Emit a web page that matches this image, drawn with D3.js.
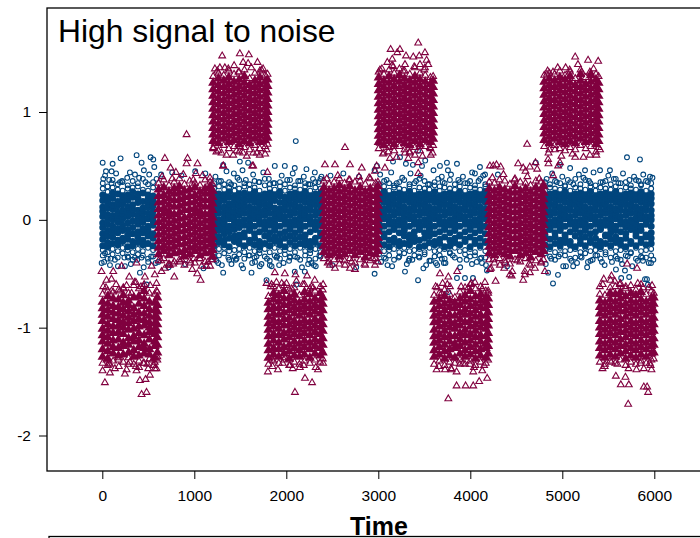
<!DOCTYPE html>
<html>
<head>
<meta charset="utf-8">
<script src="https://cdn.jsdelivr.net/npm/d3@7"></script>
<style>
  body { margin: 0; background: #fff; }
  svg { display: block; }
  text { font-family: "Liberation Sans", Arial, sans-serif; fill: #000; }
</style>
</head>
<body>
<div id="chart"></div>
<script>
var xTicks = [0, 1000, 2000, 3000, 4000, 5000, 6000];
var yTicks = [-2, -1, 0, 1];

// Dense band of the first series, read column by column. Values in hundredths.
var blueTimes = [5,58,112,168,221,276,330,387,441,497,552,
  1215,1268,1325,1379,1436,1488,1544,1601,1655,1709,1766,1820,1874,1931,1985,2040,2094,2151,2205,2260,2316,2372,
  3008,3063,3118,3171,3228,3282,3339,3392,3447,3503,3556,3612,3667,3721,3778,3832,3886,3943,3998,4051,4107,4163,
  4812,4866,4921,4977,5030,5086,5141,5197,5250,5306,5361,5415,5470,5526,5581,5634,5690,5745,5801,5856,5910,5966,5994];
var blueValues = [
[-33,-28,-24,-18,-13,-7,-3,3,8,12,18,23,29,34],[-36,-30,-25,-21,-15,-10,-4,1,5,11,16,21,26,31],[-32,-27,-22,-16,-11,-6,0,4,10,14,20,25,30,37],
[-35,-29,-23,-19,-12,-8,-2,2,7,13,17,24,28,33],[-31,-26,-20,-17,-10,-5,1,6,9,15,19,22,27,35],[-34,-28,-25,-18,-14,-9,-3,3,8,12,18,23,29,32],
[-37,-30,-24,-20,-13,-7,-1,5,10,14,21,26,30,36],[-32,-27,-21,-16,-11,-4,0,4,9,16,20,24,31,34],[-33,-29,-23,-19,-12,-8,-2,2,7,11,17,25,28,38],
[-36,-26,-22,-15,-10,-6,1,6,12,15,19,23,27,33],[-34,-28,-24,-17,-13,-5,-1,3,8,13,18,22,30,35],
[-35,-30,-24,-18,-12,-7,-2,4,9,14,19,25,29,34],[-33,-27,-21,-16,-10,-5,0,6,11,16,20,24,31,36],[-31,-26,-23,-19,-13,-8,-3,2,7,12,18,23,28,33],
[-37,-29,-25,-17,-11,-6,1,5,10,15,21,26,30,35],[-34,-28,-20,-15,-9,-4,-1,3,8,13,17,22,27,32],[-32,-27,-22,-18,-14,-7,-2,4,9,14,19,24,29,37],
[-36,-30,-24,-16,-12,-5,0,6,11,15,20,25,31,34],[-33,-26,-21,-19,-10,-8,-3,2,7,12,18,23,28,33],[-35,-29,-23,-17,-13,-6,1,5,10,16,21,26,30,36],
[-31,-28,-25,-20,-11,-4,-1,3,8,13,17,22,27,35],[-34,-27,-22,-15,-9,-7,-2,4,9,14,19,24,32,38],[-38,-30,-24,-18,-12,-5,0,6,12,15,20,25,29,33],
[-33,-26,-20,-16,-10,-8,-3,2,7,11,18,23,28,34],[-36,-29,-23,-19,-13,-6,1,5,10,16,22,26,31,35],[-32,-28,-25,-17,-11,-4,-1,3,9,13,17,21,27,33],
[-35,-27,-21,-15,-9,-7,-2,4,8,14,19,24,30,37],[-34,-30,-24,-18,-12,-5,0,6,11,15,20,25,29,32],[-37,-26,-22,-16,-10,-8,-3,2,7,12,18,23,28,36],
[-33,-29,-23,-19,-14,-6,1,5,10,16,21,26,31,34],[-31,-28,-25,-20,-11,-4,-1,3,9,13,17,22,27,33],[-36,-27,-21,-17,-9,-7,-2,4,8,14,19,24,30,35],
[-34,-30,-24,-15,-12,-5,0,6,11,15,20,25,29,38],
[-32,-26,-22,-18,-10,-8,-3,2,7,12,18,23,28,33],[-35,-29,-23,-16,-13,-6,1,5,10,16,21,26,31,36],[-33,-28,-25,-19,-11,-4,-1,3,9,13,17,22,27,34],
[-37,-27,-21,-17,-9,-7,-2,4,8,14,19,24,30,32],[-34,-30,-24,-20,-12,-5,0,6,11,15,20,25,29,35],[-31,-26,-22,-15,-10,-8,-3,2,7,12,18,23,28,37],
[-36,-29,-23,-18,-14,-6,1,5,10,16,21,26,31,33],[-33,-28,-20,-16,-11,-4,-1,3,9,13,17,22,27,34],[-35,-27,-25,-19,-9,-7,-2,4,8,14,19,24,30,38],
[-32,-30,-24,-17,-12,-5,0,6,11,15,20,25,29,36],[-38,-26,-21,-15,-10,-8,-3,2,7,12,18,23,28,33],[-34,-29,-23,-20,-13,-6,1,5,10,16,21,26,32,35],
[-33,-28,-22,-18,-11,-4,-1,3,9,13,17,22,27,31],[-36,-27,-25,-16,-9,-7,-2,4,8,14,19,24,30,34],[-31,-30,-24,-19,-12,-5,0,6,11,15,20,25,29,37],
[-35,-26,-21,-17,-10,-8,-3,2,7,12,18,23,28,33],[-37,-29,-23,-15,-14,-6,1,5,10,16,21,26,31,35],[-32,-28,-20,-18,-11,-4,-1,3,9,13,17,22,27,34],
[-34,-27,-25,-16,-9,-7,-2,4,8,14,19,24,30,36],[-33,-30,-22,-19,-12,-5,0,6,11,15,20,25,29,32],[-36,-26,-24,-17,-10,-8,-3,2,7,12,18,23,28,38],
[-35,-29,-21,-20,-13,-6,1,5,10,16,21,26,31,33],
[-31,-28,-23,-15,-11,-4,-1,3,9,13,17,22,27,35],[-34,-27,-25,-18,-9,-7,-2,4,8,14,19,24,30,33],[-37,-30,-22,-16,-12,-5,0,6,11,15,20,25,29,36],
[-32,-26,-24,-19,-10,-8,-3,2,7,12,18,23,28,34],[-33,-29,-21,-17,-14,-6,1,5,10,16,21,26,31,32],[-36,-28,-23,-20,-11,-4,-1,3,9,13,17,22,27,35],
[-35,-27,-25,-15,-9,-7,-2,4,8,14,19,24,30,38],[-34,-30,-22,-18,-12,-5,0,6,11,15,20,25,29,33],[-31,-26,-24,-16,-10,-8,-3,2,7,12,18,23,28,37],
[-38,-29,-21,-19,-13,-6,1,5,10,16,21,26,31,34],[-33,-28,-23,-17,-11,-4,-1,3,9,13,17,22,27,32],[-36,-27,-25,-20,-9,-7,-2,4,8,14,19,24,30,35],
[-32,-30,-22,-15,-14,-5,0,6,11,15,20,25,29,36],[-35,-26,-24,-18,-12,-8,-3,2,7,12,18,23,28,33],[-34,-29,-21,-16,-10,-6,1,5,10,16,21,26,31,38],
[-37,-28,-23,-19,-11,-4,-1,3,9,13,17,22,27,34],[-33,-27,-25,-17,-13,-7,-2,4,8,14,19,24,30,35],[-31,-30,-22,-20,-9,-5,0,6,11,15,20,25,29,32],
[-36,-26,-24,-15,-12,-8,-3,2,7,12,18,23,28,37],[-34,-29,-21,-18,-10,-6,1,5,10,16,21,26,32,33],[-35,-28,-23,-16,-14,-4,-1,3,9,13,17,22,27,36],
[-33,-27,-22,-17,-12,-6,0,4,9,15,20,24,29,34]
];

// Scattered points of the first series around the band: time, then value
var blueTimesOut = [4,112,40,101,199,373,427,525,554,565,452,271,101,192,11,355,640,760,860,1010,1120,1314,1430,1495,1585,1524,1875,1984,2092,2219,2310,2382,2103,2480,2620,2790,2960,2985,3160,3236,3300,3376,3432,3475,3510,3670,3746,3855,3757,4105,4160,4050,3690,4300,4712,4975,5085,5247,5410,5518,5703,5844,5953,
  29,-7,83,137,282,246,355,427,409,481,499,608,720,900,1100,1314,1622,1260,1404,1513,1629,1712,1821,1922,1785,2092,2201,2237,2320,2273,2038,1459,1676,1893,2110,2500,2760,2960,3100,3290,3432,3520,3330,3626,3713,3855,3942,4029,3760,4181,4018,4127,4400,4899,4953,4845,5010,5118,5583,5681,5640,5727,5899,5920,5431,5279,5877,5964,5931,
  30,75,150,215,300,400,470,510,590,1230,1290,1350,1400,1470,1560,1640,1700,1750,1810,1860,1950,2010,2070,2130,2190,2240,2290,2350,3020,3090,3140,3200,3260,3350,3410,3460,3540,3600,3650,3700,3790,3870,3920,3970,4020,4090,4140,4830,4890,4940,5000,5060,5120,5180,5230,5290,5340,5440,5500,5560,5610,5660,5730,5780,5830,5880,5930,5980,
  20,90,170,240,310,380,450,530,580,1240,1300,1370,1450,1530,1590,1660,1730,1790,1840,1900,1970,2030,2120,2170,2250,2300,2360,3030,3080,3150,3220,3310,3370,3440,3490,3570,3640,3690,3730,3810,3890,3960,4070,4120,4170,4820,4880,4960,5040,5100,5160,5210,5270,5330,5380,5460,5540,5600,5650,5710,5760,5820,5870,5940,5990];
var blueValuesOut = [.53,.52,.45,.45,.57,.6,.53,.58,.56,.49,.46,.39,.34,.35,.38,.42,.42,.44,.41,.45,.43,.51,.43,.54,.53,.46,.5,.5,.48,.47,.44,.4,.73,.41,.43,.4,.46,.5,.54,.58,.52,.51,.64,.5,.55,.5,.53,.52,.46,.49,.42,.43,.4,.42,.53,.51,.48,.46,.46,.46,.58,.56,.4,
  -.31,-.4,-.42,-.37,-.35,-.43,-.35,-.35,-.49,-.6,-.39,-.39,-.44,-.41,-.45,-.49,-.49,-.4,-.41,-.42,-.4,-.43,-.42,-.42,-.56,-.48,-.48,-.41,-.43,-.4,-.34,-.36,-.34,-.35,-.6,-.42,-.44,-.5,-.42,-.48,-.56,-.42,-.38,-.4,-.4,-.54,-.54,-.54,-.67,-.47,-.41,-.4,-.43,-.59,-.51,-.49,-.43,-.43,-.46,-.47,-.54,-.53,-.55,-.55,-.39,-.39,-.38,-.4,-.6,
  .41,.37,.43,.36,.44,.39,.35,.42,.38,.4,.36,.45,.33,.39,.37,.42,.35,.44,.38,.34,.41,.37,.43,.36,.4,.33,.38,.35,.42,.37,.44,.34,.39,.43,.36,.41,.33,.46,.38,.35,.42,.37,.4,.34,.44,.36,.41,.38,.43,.35,.4,.37,.33,.42,.39,.36,.44,.35,.41,.38,.34,.43,.37,.4,.36,.42,.35,.39,
  -.39,-.36,-.43,-.35,-.41,-.37,-.44,-.34,-.4,-.38,-.42,-.35,-.37,-.45,-.33,-.39,-.41,-.36,-.43,-.34,-.4,-.38,-.35,-.44,-.37,-.42,-.33,-.39,-.36,-.43,-.35,-.41,-.37,-.34,-.45,-.38,-.42,-.36,-.4,-.33,-.44,-.37,-.39,-.35,-.42,-.41,-.36,-.34,-.43,-.38,-.4,-.35,-.44,-.37,-.33,-.42,-.39,-.36,-.41,-.34,-.43,-.38,-.35,-.4,-.37];

// Solid blocks of the second series, one entry per block, columns in hundredths
var redTimes = [
  [3,60,118,175,228,285,342,398,455,512,570,598],
  [612,668,725,782,838,893,950,1006,1062,1118,1172,1198],
  [1205,1262,1320,1375,1432,1488,1545,1602,1658,1712,1770,1796],
  [1806,1862,1918,1975,2032,2088,2143,2198,2256,2312,2368,2396],
  [2408,2465,2520,2577,2633,2690,2746,2802,2858,2913,2970,2996],
  [3004,3060,3117,3173,3230,3286,3342,3398,3453,3510,3566,3596],
  [3607,3663,3720,3776,3832,3888,3943,4000,4056,4112,4168,4194],
  [4206,4262,4318,4375,4431,4486,4543,4600,4655,4712,4768,4796],
  [4804,4860,4916,4973,5030,5085,5141,5198,5254,5310,5366,5394],
  [5408,5464,5520,5576,5632,5688,5745,5800,5856,5912,5968,5994]
];
var redValues = [
[[-133,-127,-120,-113,-107,-101,-94,-88,-82,-76,-69],[-135,-129,-122,-115,-109,-103,-97,-90,-84,-78,-71,-66],[-131,-124,-118,-112,-105,-99,-92,-86,-80,-73,-67],[-130,-126,-119,-111,-104,-98,-93,-87,-81,-74,-65],[-132,-125,-117,-114,-106,-100,-95,-89,-83,-77,-70,-63],[-128,-123,-116,-110,-102,-96,-91,-85,-79,-75,-68],[-134,-127,-121,-113,-108,-101,-94,-88,-82,-72,-61],[-131,-126,-118,-112,-105,-99,-92,-86,-78,-71,-64],[-133,-124,-119,-115,-107,-98,-93,-87,-80,-73,-66,-60],[-129,-125,-120,-111,-104,-100,-95,-89,-83,-76,-68],[-132,-128,-117,-113,-106,-102,-96,-90,-84,-77,-69],[-130,-123,-116,-109,-103,-97,-91,-85,-79,-72,-67]],
[[-38,-32,-26,-20,-14,-8,-2,4,10,16,22,28,34],[-36,-29,-24,-18,-12,-6,0,6,11,17,23,30,37],[-41,-33,-27,-21,-15,-9,-3,3,8,14,20,26,32],[-39,-31,-25,-19,-13,-7,-1,5,12,18,24,29,35],[-37,-30,-23,-17,-11,-5,1,7,13,19,25,31,38],[-42,-34,-28,-22,-16,-10,-4,2,9,15,21,27,33],[-38,-32,-26,-20,-14,-8,-2,4,10,16,22,28,36],[-40,-29,-24,-18,-12,-6,0,6,11,17,23,30,34],[-36,-33,-27,-21,-15,-9,-3,3,8,14,20,26,32],[-39,-31,-25,-19,-13,-7,-1,5,12,18,24,29,37],[-43,-30,-23,-17,-11,-5,1,7,13,19,25,31,35],[-37,-34,-28,-22,-16,-10,-4,2,9,15,21,27,33]],
[[67,73,79,85,91,97,103,109,115,121,127,133],[64,71,77,83,89,95,101,107,113,119,125,131,136],[69,75,81,87,93,99,105,111,117,123,129,134],[66,72,78,84,90,96,102,108,114,120,126,132,138],[68,74,80,86,92,98,104,110,116,122,128,135],[63,70,76,82,88,94,100,106,112,118,124,130,137],[67,73,79,85,91,97,103,109,115,121,127,133,139],[65,71,77,83,89,95,101,107,113,119,125,131],[69,75,81,87,93,99,105,111,117,123,129,136],[66,72,78,84,90,96,102,108,114,120,126,132,138],[68,74,80,86,92,98,104,110,116,122,128,134],[70,76,82,88,94,100,106,112,118,124,130,135]],
[[-134,-128,-121,-115,-108,-102,-96,-90,-83,-77,-71],[-131,-125,-119,-112,-106,-99,-93,-87,-81,-74,-68,-62],[-133,-127,-120,-114,-107,-101,-95,-88,-82,-76,-70,-64],[-130,-124,-118,-111,-105,-98,-92,-86,-79,-73,-66,-61],[-135,-129,-122,-116,-109,-103,-97,-91,-84,-78,-72,-65],[-132,-126,-119,-113,-106,-100,-94,-87,-81,-75,-69,-63],[-134,-127,-121,-115,-108,-102,-96,-89,-83,-77,-70],[-131,-125,-118,-112,-105,-99,-93,-86,-80,-74,-67,-60],[-133,-128,-120,-114,-107,-101,-95,-88,-82,-76,-69,-64],[-130,-124,-117,-111,-104,-98,-92,-85,-79,-73,-66],[-132,-126,-119,-113,-106,-100,-94,-87,-81,-75,-68,-62],[-129,-123,-116,-110,-103,-97,-91,-84,-78,-72,-65]],
[[-36,-30,-24,-18,-12,-6,0,6,12,18,24,30,36],[-39,-33,-27,-21,-15,-9,-3,3,9,15,21,27,33],[-37,-31,-25,-19,-13,-7,-1,5,11,17,23,29,35],[-41,-34,-28,-22,-16,-10,-4,2,8,14,20,26,32,38],[-38,-32,-26,-20,-14,-8,-2,4,10,16,22,28,34],[-36,-29,-23,-17,-11,-5,1,7,13,19,25,31,37],[-40,-33,-27,-21,-15,-9,-3,3,9,15,21,27,35],[-37,-30,-24,-18,-12,-6,0,6,12,18,24,30,36],[-42,-35,-28,-22,-16,-10,-4,2,8,14,20,26,33],[-38,-31,-25,-19,-13,-7,-1,5,11,17,23,29,38],[-36,-32,-26,-20,-14,-8,-2,4,10,16,22,28,34],[-39,-29,-23,-17,-11,-5,1,7,13,19,25,31,35]],
[[66,72,78,84,90,96,102,108,114,120,126,132,137],[62,69,75,81,87,93,99,105,111,117,123,129,135],[67,73,79,85,91,97,103,109,115,121,127,133,139],[64,70,76,82,88,94,100,106,112,118,124,130,136],[68,74,80,86,92,98,104,110,116,122,128,134,140],[65,71,77,83,89,95,101,107,113,119,125,131,138],[63,69,75,81,87,93,99,105,111,117,123,129,135],[67,73,79,85,91,97,103,109,115,121,127,133,141],[64,70,76,82,88,94,100,106,112,118,124,130,136],[68,74,80,86,92,98,104,110,116,122,128,134],[66,72,78,84,90,96,102,108,114,120,126,132],[69,75,81,87,93,99,105,111,117,123,129,133]],
[[-134,-127,-121,-114,-108,-102,-95,-89,-83,-76,-70],[-131,-125,-118,-112,-106,-99,-93,-87,-80,-74,-68],[-135,-129,-122,-116,-109,-103,-97,-90,-84,-78,-71,-65],[-132,-126,-120,-113,-107,-100,-94,-88,-81,-75,-69],[-133,-128,-119,-115,-108,-101,-96,-89,-82,-77,-72],[-130,-124,-117,-111,-105,-98,-92,-86,-79,-73,-67],[-134,-127,-121,-114,-107,-102,-95,-88,-83,-76,-70,-63],[-131,-125,-118,-112,-106,-99,-93,-87,-80,-74,-66,-60],[-135,-129,-122,-116,-109,-103,-97,-90,-84,-78,-71,-64],[-132,-126,-120,-113,-107,-100,-94,-88,-81,-75,-69,-62],[-133,-128,-119,-115,-108,-101,-96,-89,-82,-77,-72,-66],[-130,-124,-117,-111,-105,-98,-92,-86,-79,-73,-68]],
[[-37,-31,-25,-19,-13,-7,-1,5,11,17,23,29,35],[-40,-33,-27,-21,-15,-9,-3,3,9,15,21,27,34],[-36,-30,-24,-18,-12,-6,0,6,12,18,24,30,37],[-38,-32,-26,-20,-14,-8,-2,4,10,16,22,28,36],[-41,-34,-28,-22,-16,-10,-4,2,8,14,20,26,33],[-37,-29,-23,-17,-11,-5,1,7,13,19,25,31,38],[-39,-33,-27,-21,-15,-9,-3,3,9,15,21,27,35],[-36,-31,-25,-19,-13,-7,-1,5,11,17,23,29,34],[-42,-35,-28,-22,-16,-10,-4,2,8,14,20,26,32],[-38,-30,-24,-18,-12,-6,0,6,12,18,24,30,36],[-40,-32,-26,-20,-14,-8,-2,4,10,16,22,28,35],[-37,-29,-23,-17,-11,-5,1,7,13,19,25,31,33]],
[[68,74,80,86,92,98,104,110,116,122,128,134],[65,71,77,83,89,95,101,107,113,119,125,131,136],[69,75,81,87,93,99,105,111,117,123,129,135],[66,72,78,84,90,96,102,108,114,120,126,132,138],[64,70,76,82,88,94,100,106,112,118,124,130,134],[67,73,79,85,91,97,103,109,115,121,127,133,137],[65,71,77,83,89,95,101,107,113,119,125,131],[69,75,81,87,93,99,105,111,117,123,129,135,139],[66,72,78,84,90,96,102,108,114,120,126,132],[68,74,80,86,92,98,104,110,116,122,128,134,136],[63,70,76,82,88,94,100,106,112,118,124,130,135],[67,73,79,85,91,97,103,109,115,121,127,133]],
[[-132,-126,-119,-113,-106,-100,-94,-87,-81,-75,-69],[-134,-128,-121,-115,-108,-102,-96,-89,-83,-77,-70],[-131,-125,-118,-112,-105,-99,-93,-86,-80,-74,-68,-63],[-133,-127,-120,-114,-107,-101,-95,-88,-82,-76,-69,-62],[-130,-124,-117,-111,-104,-98,-92,-85,-79,-73,-67,-59],[-135,-129,-122,-116,-109,-103,-97,-90,-84,-78,-71,-64],[-132,-126,-119,-113,-106,-100,-94,-87,-81,-75,-68,-61],[-134,-128,-121,-115,-108,-102,-96,-89,-83,-77,-70,-65],[-131,-125,-118,-112,-105,-99,-93,-86,-80,-74,-67,-60],[-133,-127,-120,-114,-107,-101,-95,-88,-82,-76,-69],[-130,-124,-117,-111,-104,-98,-92,-85,-79,-73,-66],[-129,-123,-116,-110,-103,-97,-91,-84,-78,-72,-68]]
];

// Scattered points of the second series around the blocks
var redTimesOut = [1303,1495,1593,1531,1585,1433,1687,1224,1332,1748,1278,1205,1296,1423,1531,1640,1712,1785,1314,1640,1795,1748,1224,1495,916,
  680,927,916,1035,742,800,1017,1314,1629,210,373,536,717,843,995,1187,1133,1079,977,1032,1068,782,644,680,735,
  10,46,100,119,-8,293,264,365,463,571,589,445,589,100,191,318,3,28,83,137,246,264,282,365,409,470,517,499,571,589,427,481,372,46,83,173,445,546,597,
  1875,1984,2100,2226,2309,2400,1785,1839,1893,2002,2110,2273,1800,1909,2094,2203,2280,2400,1844,2040,2147,1985,2344,
  2638,2420,2529,2692,2820,2529,2474,2692,2746,2964,2638,
  3434,3134,3235,3206,3507,3301,3380,3445,3152,3098,3525,3543,3453,3290,3163,3018,3507,3018,3072,2964,2982,3127,3326,3398,3434,3590,3561,3109,3163,3290,3453,3434,3083,
  4213,4285,4618,4850,4955,4708,4647,4575,4727,4900,
  5140,5280,5390,4833,4899,5036,5170,5300,4845,4975,5140,5300,5410,4920,
  3670,3761,3858,3623,3699,3779,3688,4050,4159,4195,3978,4275,4575,4456,4224,4369,4449,4593,4648,3634,3725,3797,3851,3851,3949,4032,4097,4184,4130,4032,3761,3996,3887,
  4250,4330,4600,4520,4213,4430,4593,4702,4811,4322,
  5408,5451,5534,5524,5705,5813,5976,5625,5878,5437,5582,5686,5636,5723,5716,5886,5922,5933,5969,5886,5806,5534,5951,
  40,150,230,350,420,520,70,180,300,400,490,560,
  650,760,880,990,1090,1170,640,770,860,960,1060,1150,
  1250,1370,1480,1620,1730,1240,1350,1460,1570,1680,1770,
  1830,1950,2060,2180,2290,1850,1960,2070,2190,2320,
  2440,2560,2680,2790,2900,2450,2580,2710,2850,2940,
  3040,3150,3270,3390,3500,3050,3200,3340,3480,3570,
  3640,3750,3900,4010,4130,3660,3790,3920,4040,4150,
  4240,4360,4480,4620,4750,4250,4380,4510,4640,4770,
  4840,4950,5080,5210,5340,4850,4990,5110,5230,5370,
  5440,5570,5690,5820,5940,5460,5600,5720,5850,5960];
var redValuesOut = [1.52,1.54,1.53,1.46,1.45,1.43,1.46,1.4,1.41,1.4,1.41,.66,.62,.6,.62,.62,.6,.65,.5,.5,.44,.73,.71,.68,.79,
  .57,.57,.52,.52,.48,.44,.43,.5,.5,-.43,-.4,-.43,-.42,-.39,-.36,-.37,-.43,-.43,-.46,-.5,-.56,-.53,-.48,-.45,-.42,
  -.62,-.56,-.55,-.48,-.48,-.53,-.61,-.58,-.53,-.51,-.59,-.62,-.66,-.66,-.66,-.68,-1.4,-1.51,-1.42,-1.38,-1.43,-1.39,-1.34,-1.36,-1.49,-1.48,-1.44,-1.38,-1.38,-1.38,-1.62,-1.6,-1.4,-1.3,-1.34,-1.28,-1.33,-1.3,-1.27,
  -.49,-.5,-.51,-.52,-.56,-.6,-.59,-.6,-.58,-.59,-.57,-.62,-1.41,-1.39,-1.6,-1.47,-1.51,-1.33,-1.3,-1.35,-1.37,-1.28,-1.39,
  .67,.51,.51,.51,.48,-.45,-.42,-.45,-.46,-.42,-.42,
  1.64,1.58,1.58,1.55,1.55,1.52,1.51,1.52,1.49,1.46,1.48,1.44,1.44,1.44,1.42,1.39,1.41,.71,.48,.45,.5,.57,.57,.6,.53,.62,.67,.63,.68,.62,.68,.43,.71,
  .5,.51,.7,.52,.5,.53,.49,.48,.47,.41,
  1.51,1.48,1.47,1.35,1.37,1.41,1.44,1.37,.56,.53,.58,.6,.65,.65,
  -.5,-.53,-.48,-.62,-.59,-.62,-.68,-.58,-.58,-.66,-.63,-.57,-.56,-.48,-.45,-.45,-.52,-.48,-.49,-1.39,-1.39,-1.39,-1.41,-1.54,-1.54,-1.54,-1.5,-1.47,-1.4,-1.41,-1.66,-1.34,-1.34,
  .5,.49,.45,.52,-.46,-.51,-.51,-.45,-.48,-.42,
  -.62,-.55,-.52,-.56,-.41,-.45,-.61,-.6,-.63,-1.38,-1.45,-1.46,-1.53,-1.53,-1.71,-1.55,-1.55,-1.6,-1.39,-1.38,-1.39,-1.32,-1.33,
  -.63,-.6,-.64,-.58,-.62,-.61,-1.33,-1.36,-1.32,-1.37,-1.34,-1.35,
  .4,.38,.42,.37,.41,.39,-.38,-.41,-.37,-.4,-.36,-.39,
  1.38,1.4,1.37,1.41,1.39,.63,.6,.64,.59,.62,.61,
  -.62,-.59,-.64,-.6,-.63,-1.36,-1.33,-1.38,-1.35,-1.37,
  .38,.41,.37,.4,.39,-.4,-.37,-.39,-.41,-.36,
  1.4,1.43,1.38,1.42,1.39,.61,.58,.62,.59,.6,
  -.63,-.6,-.62,-.59,-.64,-1.36,-1.38,-1.33,-1.37,-1.35,
  .39,.42,.37,.4,.38,-.37,-.4,-.38,-.41,-.39,
  1.38,1.41,1.39,1.37,1.4,.62,.59,.61,.58,.6,
  -.6,-.57,-.62,-.59,-.63,-1.36,-1.34,-1.38,-1.33,-1.35];

var w = 700, h = 538;
var frame = {left: 47, top: 8, bottom: 471};

var blue = '#00457d', red = '#80003f';

var svg = d3.select('#chart').append('svg')
    .attr('width', w)
    .attr('height', h);

// Scales
var x = d3.scaleLinear().domain([0, 6000]).range([102.3, 654.3]);
var y = d3.scaleLinear().domain([-2, 1]).range([435.5, 112]);

// Turn the column tables into plain points. The ends of a column stay open,
// the middle overplots so heavily in the original that it reads as solid.
function fromColumns(times, columns, open) {
    var out = [];
    columns.forEach(function(col, i) {
        col.forEach(function(v, j) {
            out.push({t: times[i], v: v / 100, solid: j >= open && j < col.length - open});
        });
    });
    return out;
}
function fromPairs(times, values) {
    return times.map(function(t, i) { return {t: t, v: values[i], solid: false}; });
}

var bluePoints = fromColumns(blueTimes, blueValues, 2).concat(fromPairs(blueTimesOut, blueValuesOut));
var redPoints = [];
redTimes.forEach(function(times, b) {
    redPoints = redPoints.concat(fromColumns(times, redValues[b], 1));
});
redPoints = redPoints.concat(fromPairs(redTimesOut, redValuesOut));

// Draw points
svg.append('g').selectAll('circle')
    .data(bluePoints)
  .enter().append('circle')
    .attr('cx', function(d) { return x(d.t); })
    .attr('cy', function(d) { return y(d.v); })
    .attr('r', 2.4)
    .attr('fill', function(d) { return d.solid ? blue : 'none'; })
    .attr('stroke', blue)
    .attr('stroke-width', function(d) { return d.solid ? 2.2 : 1.1; });

var triangle = d3.symbol().type(d3.symbolTriangle).size(20);
svg.append('g').selectAll('path')
    .data(redPoints)
  .enter().append('path')
    .attr('d', triangle)
    .attr('transform', function(d) { return 'translate(' + [x(d.t), y(d.v)] + ')'; })
    .attr('fill', function(d) { return d.solid ? red : 'none'; })
    .attr('stroke', red)
    .attr('stroke-width', function(d) { return d.solid ? 1.9 : 1.1; });

// Frame
svg.append('rect')
    .attr('x', frame.left)
    .attr('y', frame.top)
    .attr('width', w)
    .attr('height', frame.bottom - frame.top)
    .attr('fill', 'none')
    .attr('stroke', '#000')
    .attr('stroke-width', 1.3);

// Top edge of the next panel, cut off by the window
svg.append('rect')
    .attr('x', 49)
    .attr('y', 536.5)
    .attr('width', w)
    .attr('height', 40)
    .attr('fill', 'none')
    .attr('stroke', '#000')
    .attr('stroke-width', 1.3);

// Axes
var xAxis = d3.axisBottom(x)
    .tickValues(xTicks)
    .tickFormat(function(d) { return String(d); })
    .tickSize(8)
    .tickPadding(11);
var yAxis = d3.axisLeft(y)
    .tickValues(yTicks)
    .tickFormat(function(d) { return String(d); })
    .tickSize(8)
    .tickPadding(8);

var gx = svg.append('g')
    .attr('transform', 'translate(0,' + frame.bottom + ')')
    .call(xAxis);
var gy = svg.append('g')
    .attr('transform', 'translate(' + frame.left + ',0)')
    .call(yAxis);
[gx, gy].forEach(function(g) {
    g.select('.domain').remove();
    g.selectAll('line').attr('stroke', '#000').attr('stroke-width', 1);
    g.selectAll('text').style('font-family', '"Liberation Sans", Arial, sans-serif').style('font-size', '15.5px');
});

// Labels
svg.append('text')
    .attr('x', 58)
    .attr('y', 42)
    .style('font-size', '31.8px')
    .text('High signal to noise');

svg.append('text')
    .attr('x', 379)
    .attr('y', 535)
    .attr('text-anchor', 'middle')
    .style('font-size', '25px')
    .style('font-weight', 'bold')
    .text('Time');
</script>
</body>
</html>
